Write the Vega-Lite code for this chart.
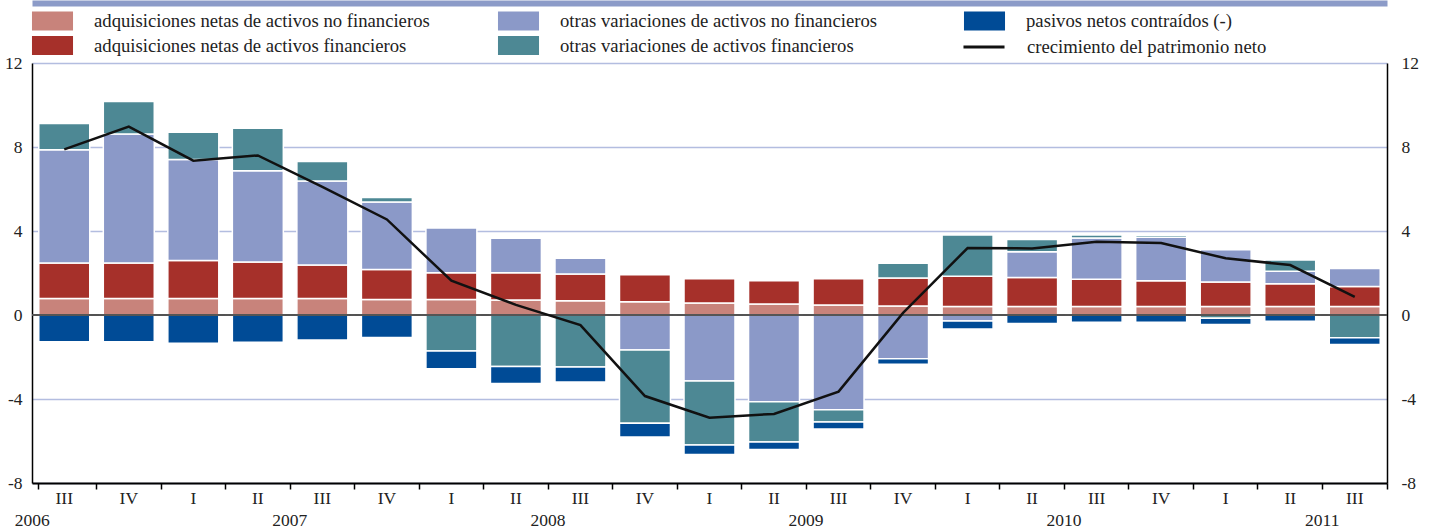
{
  "$schema": "https://vega.github.io/schema/vega-lite/v6.json",
  "width": 1355,
  "height": 420,
  "autosize": {"type": "none"},
  "padding": {"left": 32, "top": 63, "right": 48, "bottom": 46},
  "config": {
    "view": {"stroke": null},
    "font": "Liberation Serif",
    "axis": {"labelFont": "Liberation Serif", "labelColor": "#222222", "labelFontSize": 17.5, "title": null},
    "legend": {"labelFont": "Liberation Serif"}
  },
  "data": {
    "values": [
      {"q": "2006-III", "anf": 0.78, "af": 1.70, "ovnf": 5.39, "ovf": 1.25, "pas": -1.27, "pn": 7.89},
      {"q": "2006-IV", "anf": 0.78, "af": 1.70, "ovnf": 6.14, "ovf": 1.55, "pas": -1.27, "pn": 8.97},
      {"q": "2007-I", "anf": 0.78, "af": 1.81, "ovnf": 4.82, "ovf": 1.29, "pas": -1.35, "pn": 7.35},
      {"q": "2007-II", "anf": 0.78, "af": 1.74, "ovnf": 4.35, "ovf": 2.02, "pas": -1.30, "pn": 7.60},
      {"q": "2007-III", "anf": 0.78, "af": 1.60, "ovnf": 4.00, "ovf": 0.93, "pas": -1.19, "pn": 6.10},
      {"q": "2007-IV", "anf": 0.74, "af": 1.43, "ovnf": 3.21, "ovf": 0.22, "pas": -1.07, "pn": 4.55},
      {"q": "2008-I", "anf": 0.74, "af": 1.27, "ovnf": 2.13, "ovf": -1.71, "pas": -0.85, "pn": 1.63},
      {"q": "2008-II", "anf": 0.71, "af": 1.30, "ovnf": 1.64, "ovf": -2.45, "pas": -0.81, "pn": 0.48},
      {"q": "2008-III", "anf": 0.68, "af": 1.27, "ovnf": 0.75, "ovf": -2.48, "pas": -0.71, "pn": -0.48},
      {"q": "2008-IV", "anf": 0.63, "af": 1.29, "ovnf": -1.67, "ovf": -3.49, "pas": -0.65, "pn": -3.86},
      {"q": "2009-I", "anf": 0.57, "af": 1.16, "ovnf": -3.14, "ovf": -3.05, "pas": -0.45, "pn": -4.89},
      {"q": "2009-II", "anf": 0.52, "af": 1.11, "ovnf": -4.13, "ovf": -1.92, "pas": -0.35, "pn": -4.71},
      {"q": "2009-III", "anf": 0.48, "af": 1.25, "ovnf": -4.51, "ovf": -0.59, "pas": -0.33, "pn": -3.65},
      {"q": "2009-IV", "anf": 0.43, "af": 1.33, "ovnf": -2.08, "ovf": 0.70, "pas": -0.27, "pn": 0.10},
      {"q": "2010-I", "anf": 0.40, "af": 1.44, "ovnf": -0.29, "ovf": 1.97, "pas": -0.38, "pn": 3.19},
      {"q": "2010-II", "anf": 0.40, "af": 1.39, "ovnf": 1.22, "ovf": 0.58, "pas": -0.41, "pn": 3.17},
      {"q": "2010-III", "anf": 0.40, "af": 1.30, "ovnf": 1.97, "ovf": 0.14, "pas": -0.35, "pn": 3.49},
      {"q": "2010-IV", "anf": 0.40, "af": 1.23, "ovnf": 2.07, "ovf": 0.10, "pas": -0.35, "pn": 3.43},
      {"q": "2011-I", "anf": 0.40, "af": 1.17, "ovnf": 1.54, "ovf": -0.16, "pas": -0.29, "pn": 2.70},
      {"q": "2011-II", "anf": 0.40, "af": 1.09, "ovnf": 0.59, "ovf": 0.54, "pas": -0.30, "pn": 2.38},
      {"q": "2011-III", "anf": 0.40, "af": 0.96, "ovnf": 0.86, "ovf": -1.08, "pas": -0.32, "pn": 0.86}
    ]
  },
  "layer": [
    {
      "mark": {"type": "rule", "color": "#000000", "strokeWidth": 2, "strokeDash": [10, 4]},
      "encoding": {"y": {"datum": 0, "type": "quantitative", "scale": {"domain": [-8, 12], "nice": false}, "axis": null}}
    },
    {
      "transform": [
        {"fold": ["anf", "af", "ovnf", "ovf", "pas"], "as": ["serie", "value"]},
        {"calculate": "indexof(['anf','af','ovnf','ovf','pas'], datum.serie)", "as": "ord"}
      ],
      "mark": {"type": "bar", "stroke": "#ffffff", "strokeWidth": 1.5},
      "encoding": {
        "x": {
          "field": "q", "type": "ordinal", "sort": null,
          "scale": {"type": "band", "paddingInner": 0.21, "paddingOuter": 0.105},
          "axis": {
            "orient": "bottom", "domainColor": "#000000", "domainWidth": 2,
            "bandPosition": 1.133, "tickExtra": true,
            "tickColor": "#000000", "tickWidth": 1.5, "tickSize": 6,
            "labelExpr": "split(datum.value, '-')[1]", "labelPadding": 0, "labelAngle": 0, "grid": false
          }
        },
        "y": {
          "field": "value", "type": "quantitative", "stack": "zero",
          "scale": {"domain": [-8, 12], "nice": false},
          "axis": {
            "orient": "left", "values": [-8, -4, 0, 4, 8, 12], "grid": true,
            "gridColor": {"condition": {"test": "datum.value === 0", "value": "transparent"}, "value": "#b3bde0"},
            "gridWidth": 1.5, "domainColor": "#000000", "domainWidth": 1.5, "ticks": false, "labelPadding": 10,
            "labelExpr": "replace(datum.label, '−', '-')"
          }
        },
        "fill": {
          "field": "serie", "type": "nominal",
          "scale": {
            "domain": ["anf", "af", "ovnf", "ovf", "pas"],
            "range": ["#c8837b", "#a6302a", "#8b99c8", "#4d8894", "#004b96"]
          },
          "legend": {
            "orient": "none", "legendX": 11, "legendY": -52, "columns": 3, "gridAlign": "all",
            "columnPadding": 67, "rowPadding": 5, "title": null, "padding": 0,
            "labelFontSize": 18.7, "labelColor": "#222222", "labelOffset": 32, "labelLimit": 0,
            "symbolSize": 361, "symbolType": "M-2.16,-1L2.16,-1L2.16,1L-2.16,1Z", "symbolStrokeWidth": 0,
            "labelExpr": "datum.value === 'anf' ? 'adquisiciones netas de activos no financieros' : datum.value === 'af' ? 'adquisiciones netas de activos financieros' : datum.value === 'ovnf' ? 'otras variaciones de activos no financieros' : datum.value === 'ovf' ? 'otras variaciones de activos financieros' : 'pasivos netos contraídos (-)'"
          }
        },
        "order": {"field": "ord", "type": "quantitative"}
      }
    },
    {
      "mark": {"type": "rule", "color": "#555555", "strokeWidth": 1.5, "opacity": 0.5},
      "encoding": {"y": {"datum": 0, "type": "quantitative", "axis": null}}
    },
    {
      "mark": {"type": "line", "strokeWidth": 2.5},
      "encoding": {
        "x": {
          "field": "q", "type": "ordinal", "sort": null,
          "axis": {
            "orient": "bottom", "domain": false, "ticks": false, "grid": false, "labelAngle": 0,
            "labelExpr": "indexof(['2006-III','2007-II','2008-II','2009-II','2010-II','2011-II'], datum.value) >= 0 ? slice(datum.value, 0, 4) : ''",
            "labelOffset": {"condition": {"test": "datum.value === '2006-III'", "value": -32}, "value": 32},
            "labelPadding": 28
          }
        },
        "y": {
          "field": "pn", "type": "quantitative",
          "axis": {"orient": "right", "values": [-8, -4, 0, 4, 8, 12], "grid": false, "domainColor": "#000000", "domainWidth": 1.5, "ticks": false, "labelPadding": 14, "labelExpr": "replace(datum.label, '−', '-')"}
        },
        "stroke": {
          "datum": "pn", "type": "nominal",
          "scale": {"domain": ["pn"], "range": ["#111111"]},
          "legend": {
            "orient": "none", "legendX": 941, "legendY": -27, "title": null, "padding": 0,
            "labelFontSize": 18.7, "labelColor": "#222222", "labelOffset": 32, "labelLimit": 0,
            "symbolSize": 361, "symbolType": "M-2.16,0L2.16,0", "symbolStrokeWidth": 3,
            "labelExpr": "'crecimiento del patrimonio neto'"
          }
        }
      }
    },
    {
      "mark": {"type": "text", "text": ""},
      "encoding": {
        "x": {
          "field": "q", "type": "ordinal", "sort": null,
          "axis": {"orient": "top", "domain": true, "domainColor": "#8c9bc8", "domainWidth": 6, "ticks": false, "labels": false, "grid": false, "offset": 60}
        }
      }
    }
  ],
  "resolve": {"axis": {"x": "independent", "y": "independent"}}
}
